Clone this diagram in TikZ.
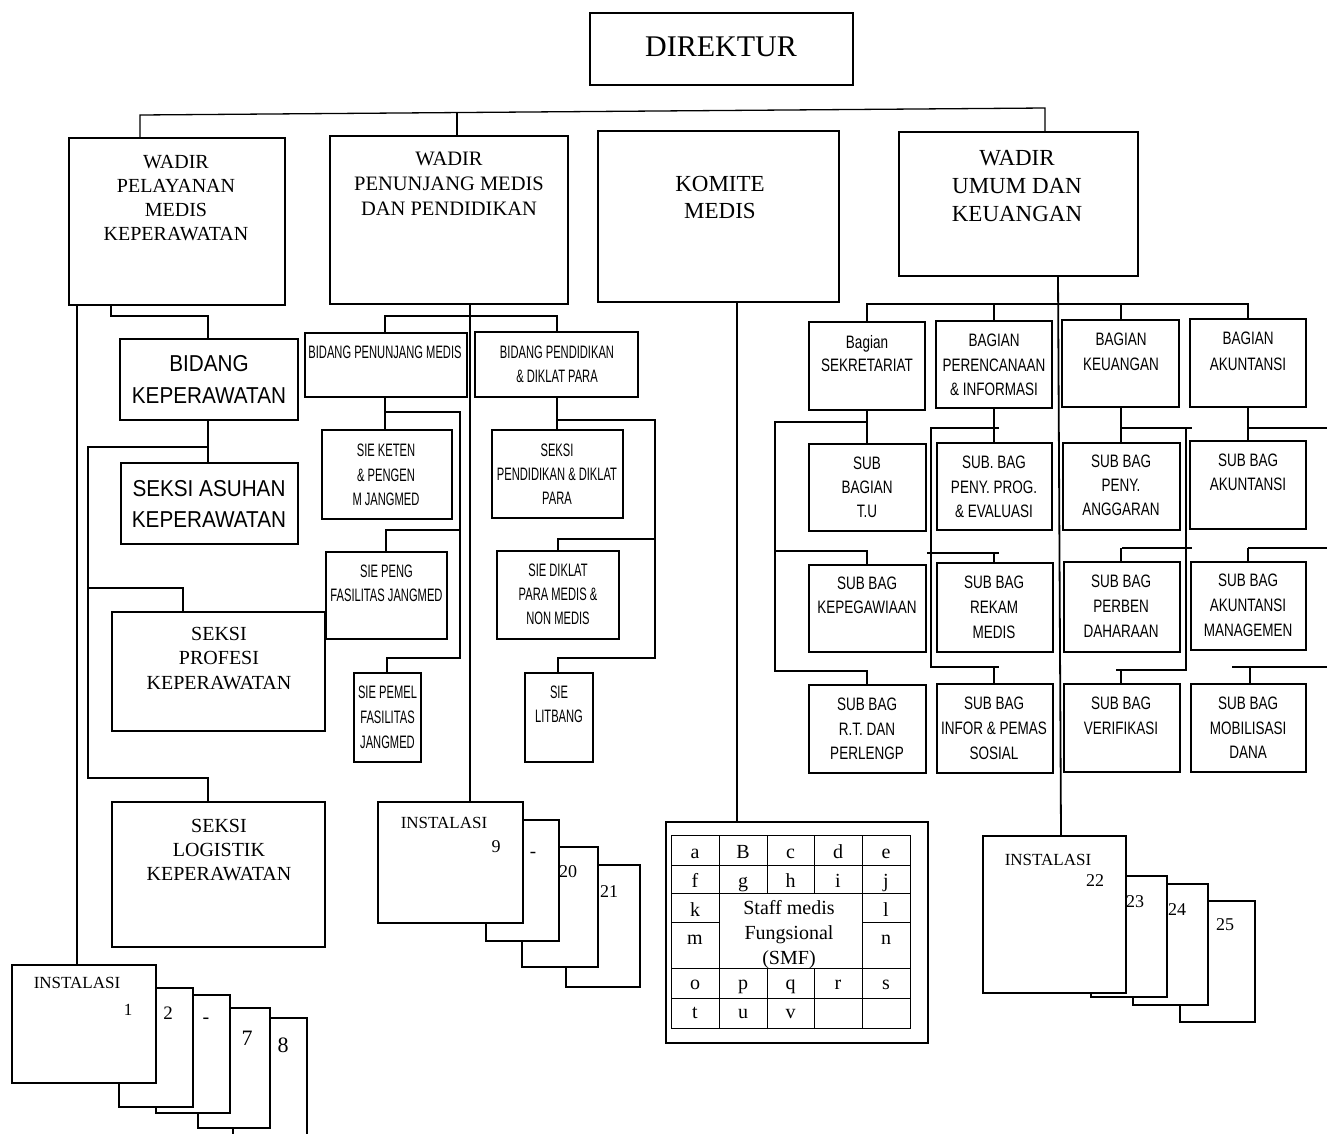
\documentclass[tikz,border=0pt]{standalone}
\usepackage{fontspec}
\setmainfont{Liberation Serif}
\newfontfamily\sansbig[FakeStretch=0.9]{Liberation Sans}
\newfontfamily\sansmid[FakeStretch=0.75]{Liberation Sans}
\newfontfamily\sansnar[FakeStretch=0.62]{Liberation Sans}
\newcommand\fsz[1]{\fontsize{#1}{#1}\selectfont}
\newcommand\bx[5]{\node[boxst,minimum width={(#4)-(#2)},minimum height={(#5)-(#3)}] (#1) at ({((#2)+(#4))/2},{((#3)+(#5))/2}) {};}
\newcommand\tl[6]{\foreach \tx [count=\ii from 0] in {#6}{\node[#2,anchor=base,inner sep=0pt] (#1\ii) at (#3,{(#4)+\ii*(#5)}) {\tx};}}
\begin{document}
\begin{tikzpicture}[x=1pt,y=-1pt,
  boxst/.style={draw,line width=1.2pt,fill=white,inner sep=0pt},
  ln/.style={line width=1.3pt},
  bus/.style={line width=1.8pt},
  gl/.style={line width=1pt},
  sr/.style={font=\rmfamily\fsz{#1}},
  sb/.style={font=\sansbig\fsz{#1}},
  sm/.style={font=\sansmid\fsz{#1}},
  sn/.style={font=\sansnar\fsz{#1}}]
\useasboundingbox (0,0) rectangle (1327,1133);
\fill[white] (0,0) rectangle (1327,1133);

% ---------- boxes ----------
\bx{dir}{590}{13}{853}{85}
\bx{wpl}{69}{138}{285}{305}
\bx{wpm}{330}{136}{568}{304}
\bx{km}{598}{131}{839}{302}
\bx{wum}{899}{132}{1138}{276}

\bx{bk}{120}{339}{298}{420}
\bx{sa}{121}{463}{298}{544}
\bx{sp}{112}{612}{325}{731}
\bx{sl}{112}{802}{325}{947}

\bx{bpm}{305}{333}{467}{397}
\bx{bpd}{475}{332}{638}{397}
\bx{ske}{322}{430}{452}{519}
\bx{sfj}{326}{552}{447}{639}
\bx{spf}{354}{673}{421}{762}
\bx{spd}{492}{430}{623}{518}
\bx{sdk}{497}{551}{619}{639}
\bx{slit}{525}{673}{593}{762}

\bx{bs}{809}{322}{925}{410}
\bx{bp}{936}{321}{1052}{408}
\bx{bku}{1062}{320}{1179}{407}
\bx{bak}{1190}{319}{1306}{407}
\bx{sbtu}{809}{444}{926}{531}
\bx{sbpp}{937}{443}{1052}{530}
\bx{sbpa}{1063}{443}{1180}{530}
\bx{sbak}{1190}{441}{1306}{529}
\bx{sbkp}{809}{565}{926}{652}
\bx{sbrm}{937}{563}{1053}{652}
\bx{sbpd}{1064}{562}{1180}{652}
\bx{sbam}{1191}{562}{1306}{650}
\bx{sbrt}{809}{685}{926}{773}
\bx{sbip}{937}{684}{1053}{773}
\bx{sbvf}{1064}{684}{1180}{772}
\bx{sbmd}{1191}{684}{1306}{772}

% instalasi stacks (back to front)
\bx{ins5}{233}{1018}{307}{1150}
\bx{ins4}{198}{1008}{270}{1128}
\bx{ins3}{156}{995}{230}{1113}
\bx{ins2}{119}{988}{193}{1107}
\bx{ins1}{12}{965}{156}{1083}

\bx{insd}{566}{865}{640}{987}
\bx{insc}{522}{847}{598}{967}
\bx{insb}{486}{820}{559}{941}
\bx{insa}{378}{802}{523}{923}

\bx{inzd}{1180}{901}{1255}{1022}
\bx{inzc}{1133}{884}{1208}{1005}
\bx{inzb}{1091}{876}{1167}{997}
\bx{inza}{983}{836}{1126}{993}

\bx{smf}{666}{822}{928}{1043}

% ---------- connectors ----------
\draw[ln] (wpl.north -| 140,0) -- (140,115) -- (1045,108) -- (wum.north -| 1045,0);
\draw[ln] (457,113) -- (wpm.north -| 457,0);

% left column
\draw[ln] (wpl.south -| 77,0) -- (ins1.north -| 77,0);
\draw[ln] (wpl.south -| 111,0) -- (111,316) -- (208,316) -- (bk.north -| 208,0);
\draw[ln] (bk.south -| 208,0) -- (sa.north -| 208,0);
\draw[ln] (208,447) -- (88,447) -- (88,778) -- (208,778) -- (sl.north -| 208,0);
\draw[ln] (88,588) -- (183,588) -- (sp.north -| 183,0);

% middle column
\draw[bus] (wpm.south -| 470,0) -- (insa.north -| 470,0);
\draw[ln] (bpm.north -| 385,0) -- (385,316) -- (557,316) -- (bpd.north -| 557,0);
\draw[ln] (bpm.south -| 385,0) -- (ske.north -| 385,0);
\draw[ln] (385,412) -- (460,412) -- (460,658) -- (387,658) -- (spf.north -| 387,0);
\draw[ln] (460,530) -- (386,530) -- (sfj.north -| 386,0);
\draw[ln] (bpd.south -| 557,0) -- (spd.north -| 557,0);
\draw[ln] (557,420) -- (655,420) -- (655,658) -- (558,658) -- (slit.north -| 558,0);
\draw[ln] (655,539) -- (558,539) -- (sdk.north -| 558,0);

% komite
\draw[ln] (km.south -| 737,0) -- (smf.north -| 737,0);

% right part
\draw[bus] (wum.south -| 1058,0) -- (inza.north -| 1061,0);
\draw[ln] (bs.north -| 867,0) -- (867,304) -- (1248,304) -- (bak.north -| 1248,0);
\draw[ln] (994,304) -- (bp.north -| 994,0);
\draw[ln] (1121,304) -- (bku.north -| 1121,0);

\draw[ln] (bs.south -| 867,0) -- (sbtu.north -| 867,0);
\draw[ln] (867,422) -- (775,422) -- (775,671) -- (867,671) -- (sbrt.north -| 867,0);
\draw[ln] (775,551) -- (867,551) -- (sbkp.north -| 867,0);

\draw[ln] (bp.south -| 994,0) -- (sbpp.north -| 994,0);
\draw[ln] (999,428) -- (931,428) -- (931,667) -- (999,667);
\draw[ln] (927,553) -- (999,553);
\draw[ln] (994,553) -- (sbrm.north -| 994,0);
\draw[ln] (994,667) -- (sbip.north -| 994,0);

\draw[ln] (bku.south -| 1121,0) -- (sbpa.north -| 1121,0);
\draw[ln] (1121,428) -- (1192,428);
\draw[ln] (1186,428) -- (1186,670) -- (1116,670);
\draw[ln] (1122,548) -- (1192,548);
\draw[ln] (1121,548) -- (sbpd.north -| 1121,0);
\draw[ln] (1121,670) -- (sbvf.north -| 1121,0);

\draw[ln] (bak.south -| 1248,0) -- (sbak.north -| 1248,0);
\draw[ln] (1248,428) -- (1327,428);
\draw[ln] (1248,548) -- (1327,548);
\draw[ln] (1248,548) -- (sbam.north -| 1248,0);
\draw[ln] (1232,667) -- (1327,667);
\draw[ln] (1250,667) -- (sbmd.north -| 1250,0);

% ---------- SMF grid ----------
\draw[gl] (671,835) rectangle (910,1028);
\foreach \yy in {865,893,968,998} \draw[gl] (671,\yy) -- (910,\yy);
\draw[gl] (671,922) -- (719,922) (862,922) -- (910,922);
\foreach \xx in {719,862} \draw[gl] (\xx,835) -- (\xx,1028);
\foreach \xx in {767,814} \draw[gl] (\xx,835) -- (\xx,893) (\xx,968) -- (\xx,1028);
\foreach \lt/\xx/\yy in {a/695/858,B/743/858,c/790.5/858,d/838/858,e/886/858,
  f/695/887,g/743/887,h/790.5/887,i/838/887,j/886/887,
  k/695/916,l/886/916,m/695/944,n/886/944,
  o/695/989,p/743/989,q/790.5/989,r/838/989,s/886/989,
  t/695/1018,u/743/1018,v/790.5/1018}
  \node[sr=20,anchor=base,inner sep=0pt] (c\lt) at (\xx,\yy) {\lt};
\tl{smft}{sr=20}{789}{914}{25}{Staff medis,Fungsional,{(SMF)}}

% ---------- texts ----------
\tl{dirt}{sr=30}{721}{56}{0}{DIREKTUR}
\tl{wplt}{sr=20}{176}{168}{24.3}{WADIR,PELAYANAN,MEDIS,KEPERAWATAN}
\tl{wpmt}{sr=20.5}{449}{165}{25}{WADIR,PENUNJANG MEDIS,DAN PENDIDIKAN}
\tl{kmt}{sr=23}{720}{191}{27}{KOMITE,MEDIS}
\tl{wumt}{sr=23}{1017}{165}{28}{WADIR,UMUM DAN,KEUANGAN}

\tl{bkt}{sb=23}{209}{371}{32}{BIDANG,KEPERAWATAN}
\tl{sat}{sb=23}{209}{496}{31}{SEKSI ASUHAN,KEPERAWATAN}
\tl{spt}{sr=20}{219}{640}{24.5}{SEKSI,PROFESI,KEPERAWATAN}
\tl{slt}{sr=20}{219}{832}{24}{SEKSI,LOGISTIK,KEPERAWATAN}

\tl{bpmt}{sn=18}{385}{358.5}{0}{BIDANG PENUNJANG MEDIS}
\tl{bpdt}{sn=18}{557}{358.5}{24}{BIDANG PENDIDIKAN,\& DIKLAT PARA}
\tl{sket}{sn=18}{386}{456.5}{24.5}{SIE KETEN,\& PENGEN,M JANGMED}
\tl{sfjt}{sn=18}{386.5}{577.5}{24}{SIE PENG,FASILITAS JANGMED}
\tl{spft}{sn=18}{387.5}{698.5}{25}{SIE PEMEL,FASILITAS,JANGMED}
\tl{spdt}{sn=18}{557}{456.5}{24}{SEKSI,PENDIDIKAN \& DIKLAT,PARA}
\tl{sdkt}{sn=18}{558}{576.5}{24}{SIE DIKLAT,PARA MEDIS \&,NON MEDIS}
\tl{slitt}{sn=18}{559}{698.5}{23.5}{SIE,LITBANG}

\tl{bst}{sm=18}{867}{348}{23.5}{Bagian,SEKRETARIAT}
\tl{bpt}{sm=18}{994}{346.5}{24.5}{BAGIAN,PERENCANAAN,\& INFORMASI}
\tl{bkut}{sm=18}{1121}{345.5}{25}{BAGIAN,KEUANGAN}
\tl{bakt}{sm=18}{1248}{344.5}{25.5}{BAGIAN,AKUNTANSI}
\tl{sbtut}{sm=18}{867}{469.5}{24}{SUB,BAGIAN,T.U}
\tl{sbppt}{sm=18}{994}{468.5}{24.5}{SUB. BAG,PENY. PROG.,\& EVALUASI}
\tl{sbpat}{sm=18}{1121}{467.5}{24}{SUB BAG,PENY.,ANGGARAN}
\tl{sbakt}{sm=18}{1248}{466.5}{24}{SUB BAG,AKUNTANSI}
\tl{sbkpt}{sm=18}{867}{589.5}{24}{SUB BAG,KEPEGAWIAAN}
\tl{sbrmt}{sm=18}{994}{588.5}{25}{SUB BAG,REKAM,MEDIS}
\tl{sbpdt}{sm=18}{1121}{587.5}{25}{SUB BAG,PERBEN,DAHARAAN}
\tl{sbamt}{sm=18}{1248}{586.5}{25}{SUB BAG,AKUNTANSI,MANAGEMEN}
\tl{sbrtt}{sm=18}{867}{710.5}{24.5}{SUB BAG,R.T. DAN,PERLENGP}
\tl{sbipt}{sm=18}{994}{709.5}{25}{SUB BAG,INFOR \& PEMAS,SOSIAL}
\tl{sbvft}{sm=18}{1121}{709.5}{25}{SUB BAG,VERIFIKASI}
\tl{sbmdt}{sm=18}{1248}{709.5}{24.5}{SUB BAG,MOBILISASI,DANA}

% instalasi labels
\node[sr=17,anchor=base,inner sep=0pt] (il1) at (77,988) {INSTALASI};
\node[sr=17,anchor=base,inner sep=0pt] (n1) at (128,1015) {1};
\node[sr=19,anchor=base,inner sep=0pt] (n2) at (168,1019) {2};
\node[sr=20,anchor=base,inner sep=0pt] (n3) at (206,1023) {-};
\node[sr=22,anchor=base,inner sep=0pt] (n7) at (247,1045) {7};
\node[sr=22,anchor=base,inner sep=0pt] (n8) at (283,1052) {8};

\node[sr=17,anchor=base,inner sep=0pt] (il9) at (444,828) {INSTALASI};
\node[sr=18,anchor=base,inner sep=0pt] (n9) at (496,852) {9};
\node[sr=19,anchor=base,inner sep=0pt] (n10) at (533,857) {-};
\node[sr=18,anchor=base,inner sep=0pt] (n20) at (568,877) {20};
\node[sr=18,anchor=base,inner sep=0pt] (n21) at (609,897) {21};

\node[sr=17,anchor=base,inner sep=0pt] (il22) at (1048,865) {INSTALASI};
\node[sr=18,anchor=base,inner sep=0pt] (n22) at (1095,886) {22};
\node[sr=18,anchor=base,inner sep=0pt] (n23) at (1135,907) {23};
\node[sr=18,anchor=base,inner sep=0pt] (n24) at (1177,915) {24};
\node[sr=18,anchor=base,inner sep=0pt] (n25) at (1225,930) {25};
\end{tikzpicture}
\end{document}
